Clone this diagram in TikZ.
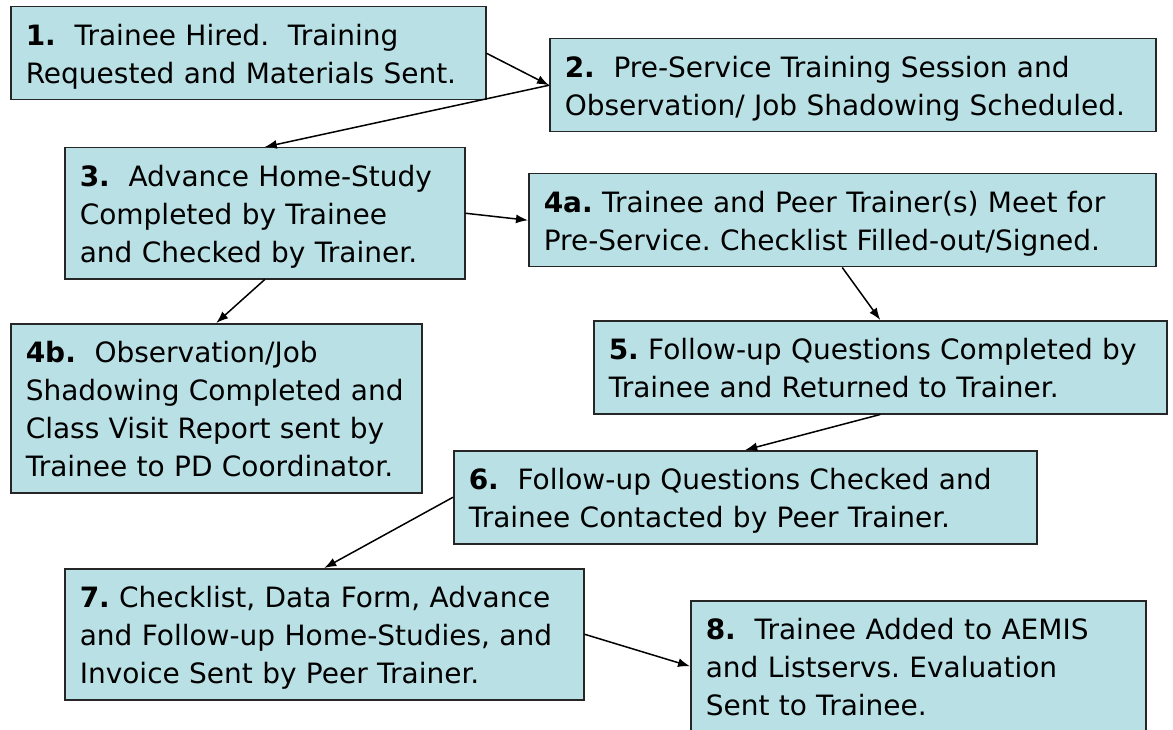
\documentclass[tikz,border=0pt]{standalone}
\usepackage{fontspec}
\setmainfont{DejaVu Sans}
\usetikzlibrary{arrows.meta}
\definecolor{stagefill}{RGB}{185,224,228}
\frenchspacing

\begin{document}
\begin{tikzpicture}[x=1pt,y=-1pt,>={Latex[length=12pt,width=9pt]},
    stage/.style={draw=black!85,line width=1.5pt,fill=stagefill,anchor=north west,
      align=left,inner xsep=15pt,inner ysep=8pt,
      font=\fontsize{28}{38}\selectfont,
      execute at begin node={\rule{0pt}{31pt}},
      execute at end node={\rule[-8pt]{0pt}{8pt}}}]
    \useasboundingbox (0,0) rectangle (1173,730);
    \fill[white] (0,0) rectangle (1173,730);
    \node[stage,text width=445pt] (s1)  at (10,6)   {\textbf{1.}\ \ Trainee Hired.\ \ Training\\Requested and Materials Sent.};
    \node[stage,text width=576pt] (s2)  at (549,38) {\textbf{2.}\ \ Pre-Service Training Session and\\Observation/ Job Shadowing Scheduled.};
    \node[stage,text width=370pt] (s3)  at (64,147) {\textbf{3.}\ \ Advance Home-Study\\Completed by Trainee\\and Checked by Trainer.};
    \node[stage,text width=597pt] (s4a) at (528,173) {\textbf{4a.} Trainee and Peer Trainer(s) Meet for\\Pre-Service. Checklist Filled-out/Signed.};
    \node[stage,text width=381pt] (s4b) at (10,323) {\textbf{4b.}\ \ Observation/Job\\Shadowing Completed and\\Class Visit Report sent by\\Trainee to PD Coordinator.};
    \node[stage,text width=543pt] (s5)  at (593,320) {\textbf{5.} Follow-up Questions Completed by\\Trainee and Returned to Trainer.};
    \node[stage,text width=553pt] (s6)  at (453,450) {\textbf{6.}\ \ Follow-up Questions Checked and\\Trainee Contacted by Peer Trainer.};
    \node[stage,text width=489pt] (s7)  at (64,568) {\textbf{7.} Checklist, Data Form, Advance\\and Follow-up Home-Studies, and\\Invoice Sent by Peer Trainer.};
    \node[stage,text width=425pt] (s8)  at (690,600) {\textbf{8.}\ \ Trainee Added to AEMIS\\and Listservs. Evaluation\\Sent to Trainee.};
    \path[->,line width=1.5pt]
    (s1.east)  edge (s2.west)
    (s2.west)  edge (s3.north)
    (s3.east)  edge (s4a.west)
    (s3.south) edge (s4b.north)
    (s4a.south) edge (s5.north)
    (s5.south) edge (s6.north)
    (s6.west)  edge (s7.north)
    (s7.east)  edge (s8.west);
\end{tikzpicture}
\end{document}
